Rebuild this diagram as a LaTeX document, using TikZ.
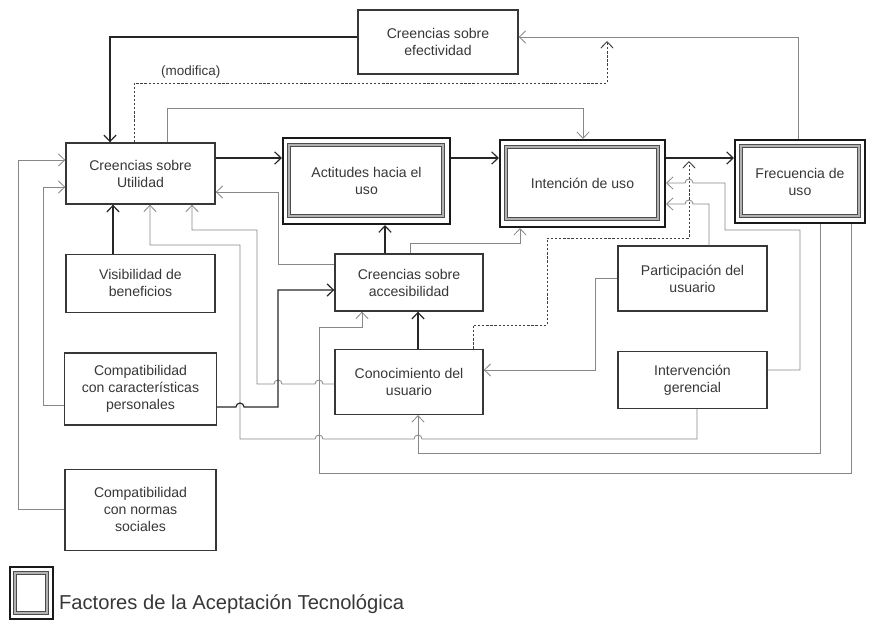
\documentclass[tikz,border=0pt]{standalone}
\usepackage{fontspec}
\setmainfont{Liberation Sans}
\usepackage{xcolor}
\usepackage{tikz}
\usetikzlibrary{arrows.meta,positioning}
\definecolor{tinta}{RGB}{55,55,55}
\definecolor{lineagris}{RGB}{135,135,135}
% pequeno salto sobre un cruce (hacia la izquierda / hacia la derecha)
\newcommand{\saltoizq}[2]{-- (#1+4,#2) arc[start angle=0,end angle=-180,radius=4]}
\newcommand{\saltoder}[2]{-- (#1-4,#2) arc[start angle=180,end angle=360,radius=4]}

\begin{document}
\begin{tikzpicture}[x=0.03cm, y=-0.03cm,
  caja/.style={draw=tinta, line width=1.2pt, align=center, text=tinta, minimum width=4.47cm, inner sep=2pt, font=\fontsize{12}{14.5}\selectfont},
  doble/.style={caja, line width=1.8pt, draw=black!90},
  interior/.style={draw=black!70, line width=0.8pt, double=black!30, double distance=1.5pt},
  flecha/.style={-{Straight Barb[length=5.5pt,width=10.5pt]}, line width=1pt, draw=black!85},
  flechag/.style={flecha, line width=0.7pt, draw=lineagris},
  modif/.style={flecha, line width=0.8pt, draw=black!75, dash pattern=on 2pt off 1.5pt}
]
\useasboundingbox (0,0) rectangle (890,620);

\node[caja, minimum height=1.83cm] (util) at (140.5,173.5) {Creencias sobre\\Utilidad};
\node[caja, minimum width=4.8cm, minimum height=1.92cm] (efect) at (438,42) {Creencias sobre\\efectividad};
\node[doble, minimum width=5.01cm, minimum height=2.58cm] (act) at (366.5,181) {Actitudes hacia el\\uso};
\node[doble, minimum width=4.95cm, minimum height=2.61cm] (int) at (582.5,183.5) {Intención de uso};
\node[doble, minimum width=3.9cm, minimum height=2.49cm] (frec) at (800,181.5) {Frecuencia de\\uso};
\node[caja, minimum height=1.74cm, below=1.47cm of util] (vis) {Visibilidad de\\beneficios};
\node[caja, minimum width=4.56cm, minimum height=2.16cm, below=1.17cm of vis] (cper) {Compatibilidad\\con características\\personales};
\node[caja, minimum width=4.53cm, minimum height=2.43cm, below=1.29cm of cper] (cnor) {Compatibilidad\\con normas\\sociales};
\node[caja, minimum width=4.44cm, minimum height=1.71cm] (acc) at (409,282.5) {Creencias sobre\\accesibilidad};
\node[caja, minimum width=4.44cm, minimum height=1.95cm, below=1.11cm of acc] (con) {Conocimiento del\\usuario};
\node[caja, minimum height=1.95cm] (par) at (692.5,278.5) {Participación del\\usuario};
\node[caja, minimum height=1.71cm, below=1.17cm of par] (intv) {Intervención\\gerencial};

\node[doble, minimum width=1.29cm, minimum height=1.56cm] (ley) at (31.5,593) {};
\node[anchor=west, text=tinta, font=\fontsize{17.2}{20}\selectfont] (leytxt) at (55,604) {Factores de la Aceptación Tecnológica};

\draw[interior] ([shift={(7,8)}]act.north west) rectangle ([shift={(-8,-9)}]act.south east);
\draw[interior] ([shift={(7,8)}]int.north west) rectangle ([shift={(-8,-9)}]int.south east);
\draw[interior] ([shift={(7,7)}]frec.north west) rectangle ([shift={(-7,-8)}]frec.south east);
\draw[interior] ([shift={(6,7)}]ley.north west) rectangle ([shift={(-7,-7)}]ley.south east);

\coordinate (m1) at (607,41);
\coordinate (m2) at (689,161);

\draw[flecha] (efect.west |- 0,37) -| (util.north -| 110,0);
\draw[modif] (util.north -| 134,0) -- (134,83) -| node[pos=0.06, above, text=tinta, font=\fontsize{11.5}{13}\selectfont] {(modifica)} (m1);
\draw[flechag] (frec.north -| 798,0) |- (efect.east |- 0,37);
\draw[flechag] (util.north -| 167,0) -- (167,108) -| (int.north -| 583,0);
\draw[flecha] (util.east |- 0,158) -- (act.west |- 0,158);
\draw[flecha] (act.east |- 0,158) -- (int.west |- 0,158);
\draw[flecha] (int.east |- 0,158) -- (frec.west |- 0,158);

\draw[flechag] (acc.west |- 0,264) -| (278,192) -- (util.east |- 0,192);
\draw[flecha] (vis.north -| 113,0) -- (util.south -| 113,0);
\draw[flechag] (intv.south -| 697,0) -- (697,439) \saltoizq{418}{439} \saltoizq{319}{439} -- (240,439) -- (240,245) -| (util.south -| 150,0);
\draw[flechag] (con.west |- 0,384) \saltoizq{319}{384} \saltoizq{278}{384} -- (257,384) -- (257,230) -| (util.south -| 192,0);
\draw[flecha] (cper.east |- 0,407) \saltoder{240}{407} -- (278,407) |- (acc.west |- 0,290);
\draw[flechag] (cper.west |- 0,405) -| (43,187) -- (util.west |- 0,187);
\draw[flechag] (cnor.west) -| (18,160) -- (util.west |- 0,160);

\draw[flecha] (acc.north -| 385,0) -- (act.south -| 385,0);
\draw[flechag] (acc.north -| 410,0) -- (410,243) -| (int.south -| 520,0);
\draw[flecha] (con.north -| 418,0) -- (acc.south -| 418,0);
\draw[flechag] (frec.south -| 851,0) |- (319,473) |- (362,327) -- (acc.south -| 362,0);
\draw[flechag] (frec.south -| 820,0) |- (418,453) -- (con.south -| 418,0);
\draw[flechag] (par.west) -| (595,370) -- (con.east |- 0,370);
\draw[flechag] (par.north -| 709,0) -- (709,204) \saltoizq{689}{204} -- (int.east |- 0,204);
\draw[flechag] (intv.east |- 0,370) -| (800,230) -| (725,183) \saltoizq{689}{183} -- (int.east |- 0,183);
\draw[modif] (con.north -| 473,0) |- (547,325) |- (689,238) -- (m2);
\end{tikzpicture}
\end{document}
